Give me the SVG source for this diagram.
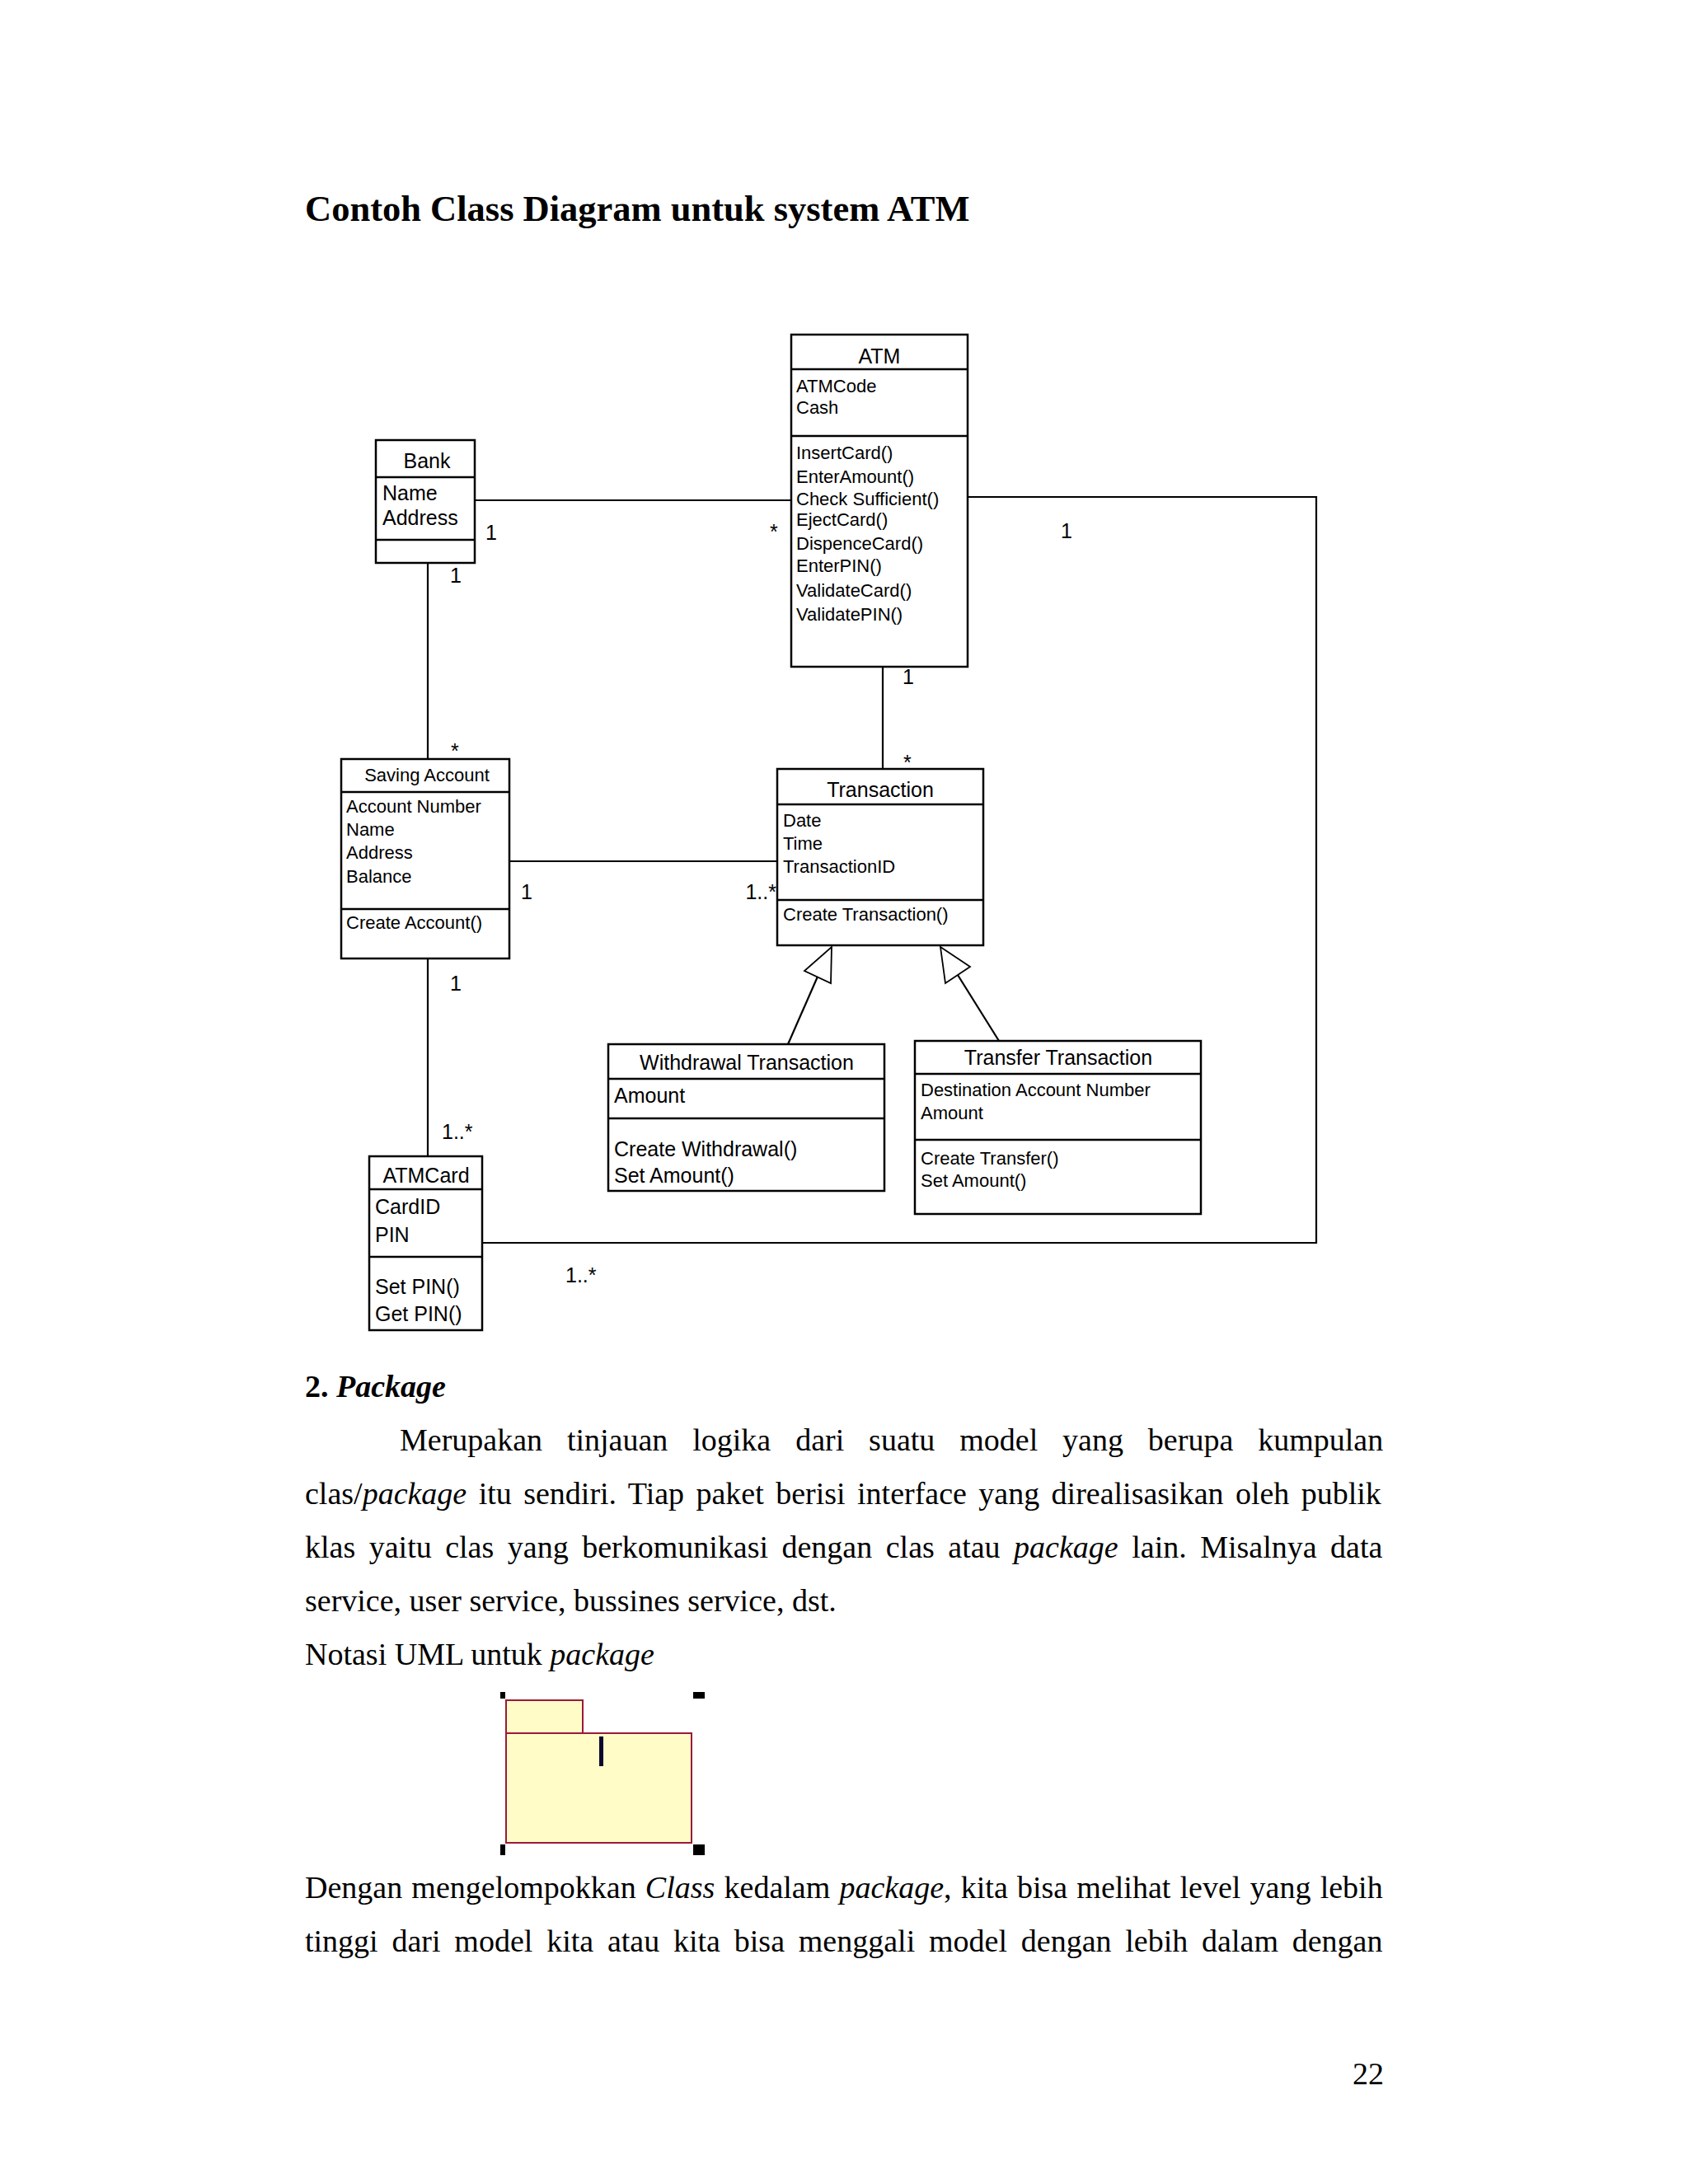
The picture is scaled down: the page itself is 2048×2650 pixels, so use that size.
<svg xmlns="http://www.w3.org/2000/svg" width="2048" height="2650" viewBox="0 0 2048 2650">
<style>
.box{fill:#fff;stroke:#000;stroke-width:2.5}
.div{stroke:#000;stroke-width:2.5}
.ln{fill:none;stroke:#000;stroke-width:2.2}
.gen{fill:#fff;stroke:#000;stroke-width:1.8}
.s{font-family:"Liberation Sans",Arial,sans-serif;font-size:21px;fill:#000}
.a{font-family:"Liberation Sans",Arial,sans-serif;font-size:22px;fill:#000}
.m{font-family:"Liberation Sans",Arial,sans-serif;font-size:25px;fill:#000}
.c{text-anchor:middle}
.lbl{font-family:"Liberation Sans",Arial,sans-serif;font-size:25px;fill:#000}
.body{font-family:"Liberation Serif","Times New Roman",serif;font-size:38px;fill:#000}
.it{font-style:italic}
</style>
<rect width="2048" height="2650" fill="#fff"/>

<text x="370" y="268" font-family="'Liberation Serif','Times New Roman',serif" font-size="44.5" font-weight="bold">Contoh Class Diagram untuk system ATM</text>

<g id="connectors">
  <line class="ln" x1="576" y1="607" x2="960" y2="607"/>
  <line class="ln" x1="519" y1="683" x2="519" y2="921"/>
  <line class="ln" x1="1071" y1="809" x2="1071" y2="933"/>
  <line class="ln" x1="618" y1="1045" x2="943" y2="1045"/>
  <line class="ln" x1="519" y1="1163" x2="519" y2="1403"/>
  <polyline class="ln" points="585,1508 1597,1508 1597,603 1174,603"/>
  <line class="ln" x1="956" y1="1267" x2="992" y2="1185"/>
  <polygon class="gen" points="1009,1149 1008,1193 976,1178"/>
  <line class="ln" x1="1212" y1="1263" x2="1162" y2="1183"/>
  <polygon class="gen" points="1141,1149 1177,1173 1147,1193"/>
  <text class="lbl" x="589" y="655">1</text>
  <text class="lbl" x="934" y="654">*</text>
  <text class="lbl" x="546" y="707">1</text>
  <text class="lbl" x="547" y="920">*</text>
  <text class="lbl" x="1095" y="830">1</text>
  <text class="lbl" x="1096" y="934">*</text>
  <text class="lbl" x="632" y="1091">1</text>
  <text class="lbl" x="942" y="1091" text-anchor="end">1..*</text>
  <text class="lbl" x="546" y="1202">1</text>
  <text class="lbl" x="536" y="1382">1..*</text>
  <text class="lbl" x="1287" y="653">1</text>
  <text class="lbl" x="686" y="1556">1..*</text>
</g>

<g id="atm">
  <rect class="box" x="960" y="406" width="214" height="403"/>
  <line class="div" x1="960" y1="448" x2="1174" y2="448"/>
  <line class="div" x1="960" y1="529" x2="1174" y2="529"/>
  <text class="m c" x="1067" y="441">ATM</text>
  <text class="a" x="966" y="476">ATMCode</text>
  <text class="a" x="966" y="502">Cash</text>
  <text class="a" x="966" y="557">InsertCard()</text>
  <text class="a" x="966" y="586">EnterAmount()</text>
  <text class="a" x="966" y="613">Check Sufficient()</text>
  <text class="a" x="966" y="638">EjectCard()</text>
  <text class="a" x="966" y="667">DispenceCard()</text>
  <text class="a" x="966" y="694">EnterPIN()</text>
  <text class="a" x="966" y="724">ValidateCard()</text>
  <text class="a" x="966" y="753">ValidatePIN()</text>
</g>

<g id="bank">
  <rect class="box" x="456" y="534" width="120" height="149"/>
  <line class="div" x1="456" y1="579" x2="576" y2="579"/>
  <line class="div" x1="456" y1="655" x2="576" y2="655"/>
  <text class="m c" x="518" y="568">Bank</text>
  <text class="m" x="464" y="607">Name</text>
  <text class="m" x="464" y="637">Address</text>
</g>

<g id="saving-account">
  <rect class="box" x="414" y="921" width="204" height="242"/>
  <line class="div" x1="414" y1="961" x2="618" y2="961"/>
  <line class="div" x1="414" y1="1103" x2="618" y2="1103"/>
  <text class="a c" x="518" y="948">Saving Account</text>
  <text class="a" x="420" y="986">Account Number</text>
  <text class="a" x="420" y="1014">Name</text>
  <text class="a" x="420" y="1042">Address</text>
  <text class="a" x="420" y="1071">Balance</text>
  <text class="a" x="420" y="1127">Create Account()</text>
</g>

<g id="transaction">
  <rect class="box" x="943" y="933" width="250" height="214"/>
  <line class="div" x1="943" y1="976" x2="1193" y2="976"/>
  <line class="div" x1="943" y1="1092" x2="1193" y2="1092"/>
  <text class="m c" x="1068" y="967">Transaction</text>
  <text class="a" x="950" y="1003">Date</text>
  <text class="a" x="950" y="1031">Time</text>
  <text class="a" x="950" y="1059">TransactionID</text>
  <text class="a" x="950" y="1117">Create Transaction()</text>
</g>

<g id="withdrawal-transaction">
  <rect class="box" x="738" y="1267" width="335" height="178"/>
  <line class="div" x1="738" y1="1309" x2="1073" y2="1309"/>
  <line class="div" x1="738" y1="1357" x2="1073" y2="1357"/>
  <text class="m c" x="906" y="1298">Withdrawal Transaction</text>
  <text class="m" x="745" y="1338">Amount</text>
  <text class="m" x="745" y="1403">Create Withdrawal()</text>
  <text class="m" x="745" y="1435">Set Amount()</text>
</g>

<g id="transfer-transaction">
  <rect class="box" x="1110" y="1263" width="347" height="210"/>
  <line class="div" x1="1110" y1="1303" x2="1457" y2="1303"/>
  <line class="div" x1="1110" y1="1383" x2="1457" y2="1383"/>
  <text class="m c" x="1284" y="1292">Transfer Transaction</text>
  <text class="a" x="1117" y="1330">Destination Account Number</text>
  <text class="a" x="1117" y="1358">Amount</text>
  <text class="a" x="1117" y="1413">Create Transfer()</text>
  <text class="a" x="1117" y="1440">Set Amount()</text>
</g>

<g id="atmcard">
  <rect class="box" x="448" y="1403" width="137" height="211"/>
  <line class="div" x1="448" y1="1443" x2="585" y2="1443"/>
  <line class="div" x1="448" y1="1525" x2="585" y2="1525"/>
  <text class="m c" x="517" y="1435">ATMCard</text>
  <text class="m" x="455" y="1473">CardID</text>
  <text class="m" x="455" y="1507">PIN</text>
  <text class="m" x="455" y="1570">Set PIN()</text>
  <text class="m" x="455" y="1603">Get PIN()</text>
</g>

<g id="text-body" class="body">
  <text x="370" y="1695" font-weight="bold">2. <tspan font-style="italic">Package</tspan></text>
  <text x="485" y="1760" word-spacing="20.4">Merupakan tinjauan logika dari suatu model yang berupa kumpulan</text>
  <text x="370" y="1825" word-spacing="4.9">clas/<tspan class="it">package</tspan> itu sendiri. Tiap paket berisi interface yang direalisasikan oleh publik</text>
  <text x="370" y="1890" word-spacing="7">klas yaitu clas yang berkomunikasi dengan clas atau <tspan class="it">package</tspan> lain. Misalnya data</text>
  <text x="370" y="1955">service, user service, bussines service, dst.</text>
  <text x="370" y="2020">Notasi UML untuk <tspan class="it">package</tspan></text>
  <text x="370" y="2303" word-spacing="1.7">Dengan mengelompokkan <tspan class="it">Class</tspan> kedalam <tspan class="it">package</tspan>, kita bisa melihat level yang lebih</text>
  <text x="370" y="2368" word-spacing="7.3">tinggi dari model kita atau kita bisa menggali model dengan lebih dalam dengan</text>
  <text x="1641" y="2529">22</text>
</g>

<g id="package-icon">
  <rect x="614" y="2063" width="93" height="40" fill="#fffcc8" stroke="#9a1a3c" stroke-width="2"/>
  <rect x="614" y="2103" width="225" height="133" fill="#fffcc8" stroke="#9a1a3c" stroke-width="2"/>
  <rect x="607" y="2053" width="6" height="8" fill="#000"/>
  <rect x="841" y="2053" width="14" height="8" fill="#000"/>
  <rect x="607" y="2238" width="6" height="13" fill="#000"/>
  <rect x="841" y="2238" width="14" height="13" fill="#000"/>
  <rect x="727" y="2107" width="5" height="36" fill="#0a0a30"/>
</g>
</svg>
